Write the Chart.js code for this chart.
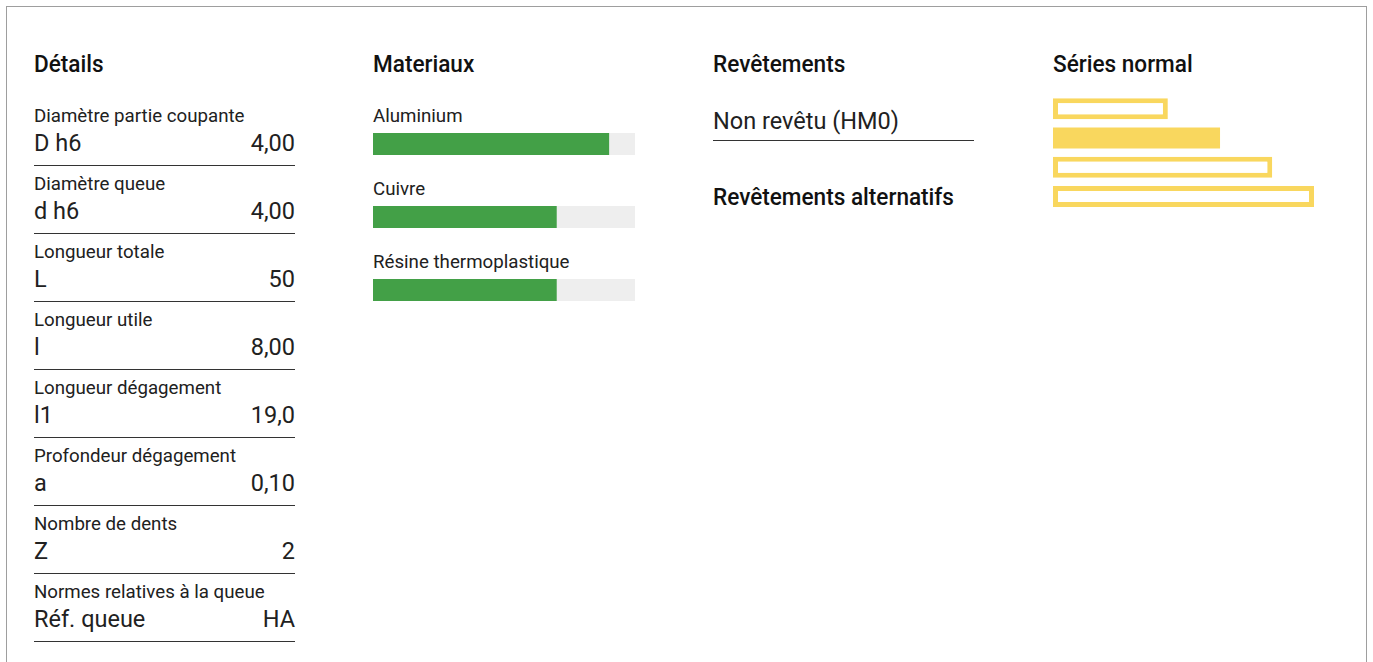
<!DOCTYPE html>
<html>
<head>
<meta charset="utf-8">
<script src="https://cdn.jsdelivr.net/npm/chart.js@4.4.1/dist/chart.umd.min.js"></script>
<style>
  html, body { margin: 0; padding: 0; background: #fff; }
  body { width: 1373px; height: 662px; overflow: hidden; position: relative; font-family: Roboto, sans-serif; color: #212121; }
  .frame { position: absolute; left: 6px; top: 6px; width: 1359px; height: 700px; border: 1px solid #9e9e9e; }
  .col { position: absolute; top: 50px; width: 262px; }
  .title { font-family: Roboto, sans-serif; font-weight: 500; font-size: 24px; line-height: 28px; height: 28px; color: #111; margin: 0; white-space: nowrap; }
  .title span { display: inline-block; transform: scaleX(0.94); transform-origin: 0 50%; }
  .detail { box-sizing: border-box; height: 68px; padding-top: 7px; border-bottom: 1px solid #333; width: 261px; }
  .lbl { font-size: 18.7px; line-height: 22px; height: 22px; white-space: nowrap; }
  .val { font-size: 23.5px; line-height: 28px; height: 28px; margin-top: 2px; display: flex; justify-content: space-between; }
  .mat { height: 73px; }
  .mat canvas { display: block; margin-top: 6px; }
  .coat { font-size: 23.5px; line-height: 28px; padding-bottom: 5px; border-bottom: 1px solid #333; width: 261px; margin-top: 29px; }
</style>
</head>
<body>
<div class="frame"></div>
<div class="col" style="left:34px;"><h2 class="title"><span>Détails</span></h2><div id="details" style="margin-top:20px;"></div></div>
<div class="col" style="left:373px;"><h2 class="title"><span>Materiaux</span></h2><div id="materials" style="margin-top:27px;"></div></div>
<div class="col" style="left:713px;">
  <h2 class="title"><span>Revêtements</span></h2>
  <div class="coat" id="coating"></div>
  <h2 class="title" style="margin-top:42px;"><span>Revêtements alternatifs</span></h2>
</div>
<div class="col" style="left:1053px;"><h2 class="title"><span>Séries normal</span></h2><canvas id="series" width="261" height="117" style="display:block;margin-top:16px;"></canvas></div>

<script>
// Détails
const detailLabels = ['Diamètre partie coupante', 'Diamètre queue', 'Longueur totale', 'Longueur utile', 'Longueur dégagement', 'Profondeur dégagement', 'Nombre de dents', 'Normes relatives à la queue']
const detailSymbols = ['D h6', 'd h6', 'L', 'l', 'l1', 'a', 'Z', 'Réf. queue']
const detailValues = ['4,00', '4,00', '50', '8,00', '19,0', '0,10', '2', 'HA']

// Materiaux (aptitude, %)
const materials = ['Aluminium', 'Cuivre', 'Résine thermoplastique']
const materialScores = [90, 70, 70]
const materialMax = 100

// Revêtements
const coating = 'Non revêtu (HM0)'

// Séries normal
const seriesLabels = ['1', '2', '3', '4']
const seriesLengths = [44, 64, 84, 100]
const seriesCurrent = 1

const green = '#43a047'
const track = '#eeeeee'
const yellow = '#f9d75e'

const detailsEl = document.getElementById('details')
detailLabels.forEach((lbl, i) => {
    let row = document.createElement('div')
    row.className = 'detail'
    row.innerHTML = `<div class="lbl">${lbl}</div><div class="val"><span>${detailSymbols[i]}</span><span>${detailValues[i]}</span></div>`
    detailsEl.appendChild(row)
})

document.getElementById('coating').textContent = coating

const matEl = document.getElementById('materials')
materials.forEach((name, i) => {
    let row = document.createElement('div')
    row.className = 'mat'
    row.innerHTML = `<div class="lbl">${name}</div>`
    let cv = document.createElement('canvas')
    cv.width = 262
    cv.height = 22
    row.appendChild(cv)
    matEl.appendChild(row)

    // barre verte par dessus la piste grise
    new Chart(cv, {
        type: 'bar',
        data: {
            labels: [name],
            datasets: [
                { data: [materialScores[i]], backgroundColor: green, grouped: false, barPercentage: 1, categoryPercentage: 1 },
                { data: [materialMax], backgroundColor: track, grouped: false, barPercentage: 1, categoryPercentage: 1 }
            ]
        },
        options: {
            indexAxis: 'y',
            responsive: false,
            animation: false,
            layout: { padding: 0 },
            scales: {
                x: { display: false, min: 0, max: materialMax },
                y: { display: false }
            },
            plugins: { legend: { display: false }, tooltip: { enabled: false } }
        }
    })
})

new Chart(document.getElementById('series'), {
    type: 'bar',
    data: {
        labels: seriesLabels,
        datasets: [{
            data: seriesLengths,
            backgroundColor: seriesLengths.map((v, i) => i == seriesCurrent ? yellow : '#ffffff'),
            borderColor: yellow,
            borderWidth: seriesLengths.map((v, i) => i == seriesCurrent ? 0 : 5),
            borderSkipped: false,
            barThickness: 21,
            inflateAmount: 0
        }]
    },
    options: {
        indexAxis: 'y',
        responsive: false,
        animation: false,
        layout: { padding: 0 },
        scales: {
            x: { display: false, min: 0, max: 100 },
            y: { display: false }
        },
        plugins: { legend: { display: false }, tooltip: { enabled: false } }
    }
})
</script>
</body>
</html>
